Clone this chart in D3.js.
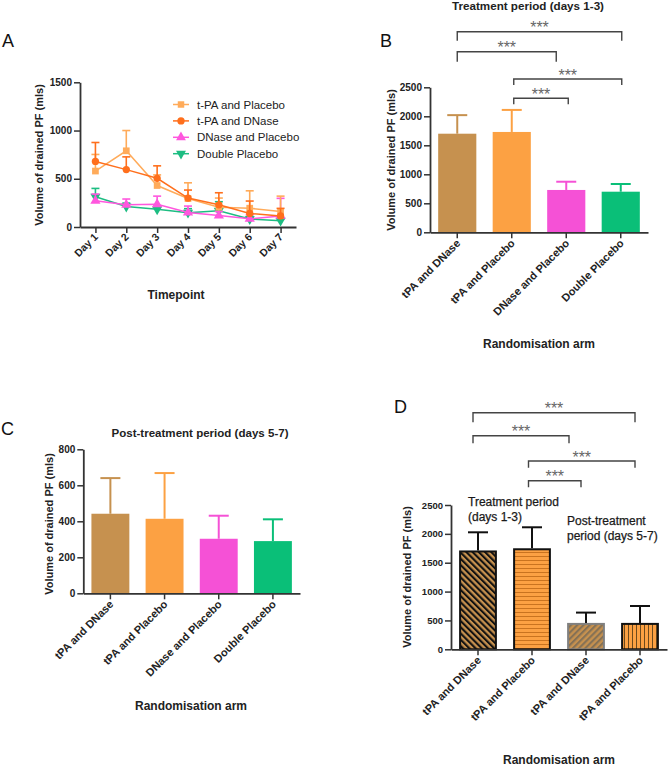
<!DOCTYPE html>
<html><head><meta charset="utf-8">
<script src="https://cdn.jsdelivr.net/npm/d3@7/dist/d3.min.js"></script>
<style>html,body{margin:0;padding:0;background:#fff}svg{display:block}</style>
</head><body>
<svg id="chart" width="669" height="766"></svg>
<script>
// ---------- DATA ----------
const days = ["Day 1","Day 2","Day 3","Day 4","Day 5","Day 6","Day 7"];
const lineSeriesNames = ["t-PA and Placebo","t-PA and DNase","DNase and Placebo","Double Placebo"];
const tpaPlaceboMean  = [580, 790, 430, 295, 205, 195, 160];
const tpaPlaceboUpper = [752, 1000, 540, 458, 300, 375, 320];
const tpaDnaseMean    = [680, 595, 505, 300, 230, 140, 115];
const tpaDnaseUpper   = [876, 727, 634, 383, 355, 269, 193];
const dnasePlaceboMean  = [272, 230, 236, 150, 118, 85, 115];
const dnasePlaceboUpper = [341, 290, 320, 217, 160, 125, 297];
const doublePlaceboMean  = [313, 212, 183, 148, 168, 82, 65];
const doublePlaceboUpper = [400, 248, 215, 190, 262, 105, 85];
const ticksA = [0, 500, 1000, 1500];

const arms = ["tPA and DNase","tPA and Placebo","DNase and Placebo","Double Placebo"];
const treatmentMean  = [1700, 1730, 730, 700];
const treatmentUpper = [2020, 2110, 872, 833];
const ticksB = [0, 500, 1000, 1500, 2000, 2500];

const postMean  = [442, 414, 303, 290];
const postUpper = [640, 668, 431, 411];
const ticksC = [0, 200, 400, 600, 800];

const armsD = ["tPA and DNase","tPA and Placebo","tPA and DNase","tPA and Placebo"];
const meanD  = [1695, 1733, 440, 440];
const upperD = [2027, 2114, 636, 750];
const ticksD = [0, 500, 1000, 1500, 2000, 2500];

const comparisons = [[0,3],[0,2],[1,3],[1,2]];
const sigLabel = "***";

// ---------- STYLE ----------
const FONT = '"Liberation Sans", Arial, Helvetica, sans-serif';
const AX = "#333";
const TAN = "#c6914f", ORANGE = "#fca143", MAGENTA = "#f551d6", GREEN = "#0abf78";
const lineColors = ["#ffab5a", "#ff6f1c", "#ff57de", "#1dbd82"];
const lineSymbols = [d3.symbolSquare, d3.symbolCircle, d3.symbolTriangle, d3.symbolTriangle];
const symbolRot = [0, 0, 0, 180];

const svg = d3.select("#chart").attr("font-family", FONT);
const defs = svg.append("defs");

function stripePattern(id, bg, stroke, sw, period, angle) {
  const p = defs.append("pattern").attr("id", id).attr("patternUnits", "userSpaceOnUse")
    .attr("width", period).attr("height", period).attr("patternTransform", `rotate(${angle})`);
  p.append("rect").attr("width", period).attr("height", period).attr("fill", bg);
  p.append("rect").attr("width", sw).attr("height", period).attr("fill", stroke);
}
stripePattern("pD1", TAN, "#111", 2.1, 4.4, -45);
stripePattern("pD2", ORANGE, "#c9731f", 1, 4, 90);
stripePattern("pD3", TAN, "#857155", 2.1, 4.4, 45);
stripePattern("pD4", ORANGE, "#6e4a1c", 1, 4, 0);

function panelLetter(t, x, y) {
  svg.append("text").attr("x", x).attr("y", y).attr("font-size", 18).attr("fill", "#111").text(t);
}
function yAxis(g, y, ticks, x, fs) {
  const a = g.append("g").attr("transform", `translate(${x},0)`)
    .call(d3.axisLeft(y).tickValues(ticks).tickFormat(d3.format("d")).tickSize(6).tickPadding(2).tickSizeOuter(0));
  a.select(".domain").attr("stroke", AX).attr("stroke-width", 1.8);
  a.selectAll(".tick line").attr("stroke", AX).attr("stroke-width", 1.5);
  a.selectAll(".tick text").attr("font-size", fs).attr("font-weight", "bold")
    .attr("fill", "#222").attr("font-family", FONT);
}
function xAxis(g, x, yPos, labels, off, fs) {
  const a = g.append("g").attr("transform", `translate(0,${yPos})`)
    .call(d3.axisBottom(x).tickSize(6).tickSizeOuter(0).tickFormat(""));
  a.select(".domain").attr("stroke", AX).attr("stroke-width", 1.8);
  a.selectAll(".tick line").attr("stroke", AX).attr("stroke-width", 1.5);
  a.selectAll(".tick").append("text")
    .attr("transform", `translate(${off[0]},${off[1]}) rotate(-45)`)
    .attr("text-anchor", "end").attr("dy", "0.35em")
    .attr("font-size", fs).attr("font-weight", "bold").attr("fill", "#222")
    .attr("font-family", FONT)
    .text((d, i) => labels[i]);
}
function vLabel(t, cx, cy) {
  svg.append("text").attr("transform", `translate(${cx},${cy}) rotate(-90)`)
    .attr("text-anchor", "middle").attr("dy", "0.35em")
    .attr("font-size", 11).attr("font-weight", "bold").attr("fill", "#222").text(t);
}
function hLabel(t, cx, cy, fs) {
  svg.append("text").attr("x", cx).attr("y", cy).attr("text-anchor", "middle")
    .attr("dy", "0.35em").attr("font-size", fs).attr("font-weight", "bold").attr("fill", "#222").text(t);
}

// ---------- PANEL A ----------
(function () {
  const g = svg.append("g");
  const x = d3.scalePoint().domain(days).range([80, 296]).padding(0.5);
  const y = d3.scaleLinear().domain([0, 1500]).range([227, 82.3]);
  yAxis(g, y, ticksA, 80, 10);
  xAxis(g, x, 227, days, [0, 8], 10.5);
  const means = [tpaPlaceboMean, tpaDnaseMean, dnasePlaceboMean, doublePlaceboMean];
  const uppers = [tpaPlaceboUpper, tpaDnaseUpper, dnasePlaceboUpper, doublePlaceboUpper];
  const order = [3, 2, 0, 1];
  order.forEach(s => {
    const c = lineColors[s];
    const sg = g.append("g");
    days.forEach((d, i) => {
      const xc = x(d);
      sg.append("line").attr("x1", xc).attr("x2", xc).attr("y1", y(means[s][i])).attr("y2", y(uppers[s][i]))
        .attr("stroke", c).attr("stroke-width", 1.6);
      sg.append("line").attr("x1", xc - 4).attr("x2", xc + 4).attr("y1", y(uppers[s][i])).attr("y2", y(uppers[s][i]))
        .attr("stroke", c).attr("stroke-width", 1.6);
    });
    sg.append("path").datum(means[s])
      .attr("d", d3.line().x((v, i) => x(days[i])).y(v => y(v)))
      .attr("fill", "none").attr("stroke", c).attr("stroke-width", 1.5);
    sg.selectAll("path.m").data(means[s]).join("path").attr("class", "m")
      .attr("d", d3.symbol().type(lineSymbols[s]).size(s === 1 ? 42 : 45))
      .attr("transform", (v, i) => `translate(${x(days[i])},${y(v)}) rotate(${symbolRot[s]})`)
      .attr("fill", c);
  });
  lineSeriesNames.forEach((n, s) => {
    const ly = 104.5 + s * 16.4;
    g.append("line").attr("x1", 173).attr("x2", 189).attr("y1", ly).attr("y2", ly)
      .attr("stroke", lineColors[s]).attr("stroke-width", 1.5);
    g.append("path").attr("d", d3.symbol().type(lineSymbols[s]).size(42))
      .attr("transform", `translate(181,${ly}) rotate(${symbolRot[s]})`).attr("fill", lineColors[s]);
    g.append("text").attr("x", 197).attr("y", ly).attr("dy", "0.35em")
      .attr("font-size", 11.5).attr("fill", "#222").text(n);
  });
  vLabel("Volume of drained PF (mls)", 39, 155);
  hLabel("Timepoint", 176, 295, 12);
  panelLetter("A", 2, 47);
})();

// ---------- BAR PANELS ----------
function barPanel(o) {
  const g = svg.append("g");
  const x = d3.scaleBand().domain(d3.range(o.means.length)).range([o.x0, o.x1])
    .paddingInner(0.3).paddingOuter(0.15);
  const y = d3.scaleLinear().domain([0, o.yMax]).range([o.yB, o.yT]);
  const bw = x.bandwidth();
  g.selectAll("rect.bar").data(o.means).join("rect").attr("class", "bar")
    .attr("x", (d, i) => x(i) + (o.sw || 0) / 2).attr("width", bw - (o.sw || 0))
    .attr("y", d => y(d)).attr("height", d => y(0) - y(d))
    .attr("fill", (d, i) => o.fills[i])
    .attr("stroke", (d, i) => o.strokes ? o.strokes[i] : "none")
    .attr("stroke-width", o.sw || 0);
  o.means.forEach((m, i) => {
    const xc = x(i) + bw / 2, c = o.errColors[i];
    g.append("line").attr("x1", xc).attr("x2", xc).attr("y1", y(m) - (o.sw || 0) / 2).attr("y2", y(o.uppers[i]))
      .attr("stroke", c).attr("stroke-width", 2);
    g.append("line").attr("x1", xc - 10).attr("x2", xc + 10).attr("y1", y(o.uppers[i])).attr("y2", y(o.uppers[i]))
      .attr("stroke", c).attr("stroke-width", 2);
  });
  yAxis(g, y, o.ticks, o.x0, o.tickFs || 10);
  xAxis(g, x, o.yB, o.labels, [1, 9], 11);
  if (o.brackets) {
    comparisons.forEach(([a, b], k) => {
      const br = o.brackets[k];
      const xa = x(a) + bw / 2 + br.da, xb = x(b) + bw / 2 + br.db;
      g.append("path").attr("d", `M${xa},${br.y + br.drop}V${br.y}H${xb}V${br.y + br.drop}`)
        .attr("fill", "none").attr("stroke", "#444").attr("stroke-width", 1.4);
      g.append("text").attr("x", (xa + xb) / 2).attr("y", br.y + 1.5).attr("text-anchor", "middle")
        .attr("font-size", 16).attr("fill", "#666").text(sigLabel);
    });
  }
  return { g, x, y };
}

// ---------- PANEL B ----------
barPanel({
  means: treatmentMean, uppers: treatmentUpper, labels: arms,
  fills: [TAN, ORANGE, MAGENTA, GREEN], errColors: [TAN, ORANGE, MAGENTA, GREEN],
  x0: 430, x1: 648, yB: 232.3, yT: 87.3, yMax: 2500, ticks: ticksB,
  brackets: [
    { y: 31.7, drop: 9, da: 0, db: 1 },
    { y: 51.7, drop: 10, da: 0, db: -10 },
    { y: 79, drop: 6, da: 2, db: 1 },
    { y: 98.3, drop: 6, da: 2, db: 2 }
  ]
});
svg.append("text").attr("x", 528).attr("y", 10).attr("text-anchor", "middle")
  .attr("font-size", 10.5).attr("font-weight", "bold").attr("fill", "#222")
  .attr("textLength", 152).attr("lengthAdjust", "spacingAndGlyphs")
  .text("Treatment period (days 1-3)");
vLabel("Volume of drained PF (mls)", 391, 160);
hLabel("Randomisation arm", 539, 344, 12);
panelLetter("B", 380, 47);

// ---------- PANEL C ----------
barPanel({
  means: postMean, uppers: postUpper, labels: arms,
  fills: [TAN, ORANGE, MAGENTA, GREEN], errColors: [TAN, ORANGE, MAGENTA, GREEN],
  x0: 83.3, x1: 300, yB: 593.3, yT: 449.3, yMax: 800, ticks: ticksC
});
svg.append("text").attr("x", 200).attr("y", 436.5).attr("text-anchor", "middle")
  .attr("font-size", 11).attr("font-weight", "bold").attr("fill", "#222")
  .attr("textLength", 177).attr("lengthAdjust", "spacingAndGlyphs")
  .text("Post-treatment period (days 5-7)");
vLabel("Volume of drained PF (mls)", 49, 524);
hLabel("Randomisation arm", 191, 706, 12);
panelLetter("C", 1, 435);

// ---------- PANEL D ----------
barPanel({
  means: meanD, uppers: upperD, labels: armsD,
  fills: ["url(#pD1)", "url(#pD2)", "url(#pD3)", "url(#pD4)"],
  strokes: ["#111", "#111", "#808080", "#111"], sw: 2,
  errColors: ["#111", "#111", "#111", "#111"],
  x0: 451, x1: 667, yB: 649.3, yT: 505, yMax: 2500, ticks: ticksD, tickFs: 9.5,
  brackets: [
    { y: 412.7, drop: 9.6, da: -5, db: -5 },
    { y: 435.7, drop: 7.6, da: -5, db: -17 },
    { y: 461, drop: 6.7, da: -3.5, db: -5 },
    { y: 480.7, drop: 6.6, da: -3.5, db: -5 }
  ]
});
[["Treatment period", 468, 506], ["(days 1-3)", 468, 521],
 ["Post-treatment", 567, 524.5], ["period (days 5-7)", 567, 539.5]].forEach(([t, x, y]) => {
  svg.append("text").attr("x", x).attr("y", y).attr("font-size", 12).attr("fill", "#1a1a1a")
    .attr("stroke", "#1a1a1a").attr("stroke-width", 0.25).text(t);
});
vLabel("Volume of drained PF (mls)", 407, 577);
hLabel("Randomisation arm", 559, 760, 12);
panelLetter("D", 394, 413);
</script>
</body></html>
